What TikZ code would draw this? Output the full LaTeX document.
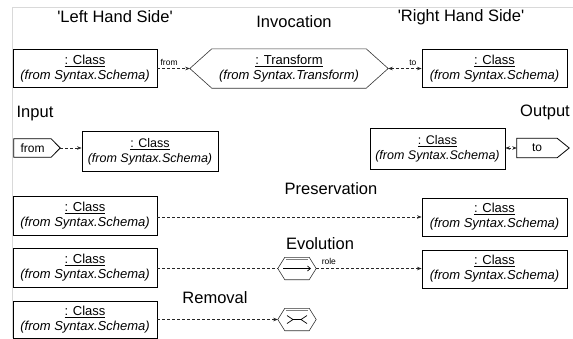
\documentclass[tikz,border=0pt]{standalone}
\usepackage{fontspec}
\setmainfont{Liberation Sans}
\usetikzlibrary{arrows.meta,calc}

% class instance label: underlined name over the italic package path
\newcommand\ClassLabel{\underline{: Class}\\\textit{(from Syntax.Schema)}}

\begin{document}
\begin{tikzpicture}[x=1pt,y=-1pt,
  cls/.style={draw=black, line width=0.9pt, minimum width=144pt, minimum height=38pt,
    inner sep=0pt, align=center, font=\fontsize{13}{15}\selectfont},
  ttl/.style={font=\fontsize{16.5}{18}\selectfont, inner sep=0pt},
  lbl/.style={font=\fontsize{8.5}{10}\selectfont, inner sep=0pt},
  hexbody/.style={inner sep=0pt, align=center},
  hexline/.style={draw=black!80, line width=0.6pt},
  flagline/.style={draw=black, line width=0.8pt},
  dep/.style={draw=black!85, line width=0.7pt, dash pattern=on 3pt off 2pt},
  tipend/.style={-{Stealth[length=4.5pt,width=3.5pt]}},
  tipboth/.style={{Stealth[length=4.5pt,width=3.5pt]}-{Stealth[length=4.5pt,width=3.5pt]}},
]
\useasboundingbox (0,0) rectangle (573,338);

% faint page frame
\draw[gray!30, line width=0.6pt] (12.5,338) -- (12.5,7) -- (573,7);

% section titles
\node[ttl] (tlhs) at (115,17) {\textquotesingle Left Hand Side\textquotesingle};
\node[ttl] (tinv) at (294,22) {Invocation};
\node[ttl] (trhs) at (461,17) {\textquotesingle Right Hand Side\textquotesingle};
\node[ttl] (tin) at (35,114) {Input};
\node[ttl] (tout) at (545,112) {Output};
\node[ttl] (tpres) at (331,189) {Preservation};
\node[ttl] (tevo) at (320,244) {Evolution};
\node[ttl] (trem) at (215,298) {Removal};

% invocation row
\node[cls] (lhs) at (85,68.5) {\ClassLabel};
\node[cls, minimum width=145pt] (rhs) at (494.5,68.5) {\ClassLabel};
\node[hexbody, minimum width=154pt, minimum height=39pt, font=\fontsize{13}{15}\selectfont]
  (trf) at (289,68.5) {\underline{: Transform}\\\textit{(from Syntax.Transform)}};
\draw[hexline] (trf.north west) -- (trf.north east) -- ($(trf.east)+(22,0)$) coordinate (trfR)
  -- (trf.south east) -- (trf.south west) -- ($(trf.west)+(-22,0)$) coordinate (trfL) -- cycle;
\draw[dep, tipend] (lhs.east) -- (trfL) node[lbl, pos=0.36, above=3pt] (lfrom) {from};
\draw[dep, tipboth] (trfR) -- (rhs.west) node[lbl, pos=0.74, above=3pt] (lto) {to};

% input row
\node[inner sep=0pt, minimum width=37pt, minimum height=18pt, font=\fontsize{12}{14}\selectfont]
  (inflag) at (32.5,148) {from};
\draw[flagline] (inflag.north west) -- (inflag.north east) -- ($(inflag.east)+(9,0)$) coordinate (inflagT)
  -- (inflag.south east) -- (inflag.south west) -- cycle;
\node[cls, minimum width=136pt, minimum height=40pt, font=\fontsize{12.5}{15}\selectfont]
  (inbox) at (150,151.5) {\ClassLabel};
\draw[dep, tipend] (inflagT) -- (inflagT -| inbox.west);

% output row
\node[cls, minimum width=135pt, minimum height=41pt, font=\fontsize{12.5}{15}\selectfont]
  (outbox) at (437.5,149) {\ClassLabel};
\node[inner sep=0pt, minimum width=40pt, minimum height=19pt, font=\fontsize{12}{14}\selectfont]
  (outflag) at (537,148) {to};
\draw[flagline] (outflag.north west) -- (outflag.north east) -- ($(outflag.east)+(12,0)$)
  -- (outflag.south east) -- (outflag.south west) -- cycle;
\draw[dep, tipboth] (outbox.east |- outflag.west) -- (outflag.west);

% preservation row
\node[cls, minimum height=39pt] (presL) at (85,216) {\ClassLabel};
\node[cls, minimum width=145pt] (presR) at (494.5,217) {\ClassLabel};
\draw[dep, tipend] (presL.east |- presR.west) -- (presR.west);

% evolution row
\node[cls, minimum height=39pt] (evoL) at (85,268) {\ClassLabel};
\node[cls, minimum width=145pt] (evoR) at (494.5,269) {\ClassLabel};
\node[inner sep=0pt, minimum width=24pt, minimum height=22pt] (evo) at (297,268.5) {};
\draw[hexline] (evo.north west) -- (evo.north east) -- ($(evo.east)+(7,0)$) coordinate (evoTR)
  -- (evo.south east) -- (evo.south west) -- ($(evo.west)+(-7,0)$) coordinate (evoTL) -- cycle;
\draw[gray, line width=0.8pt] ($(evo.north west)+(1,2)$) -- ($(evo.north east)+(-1,2)$);
\draw[black, line width=0.7pt, -{Straight Barb[length=3pt,width=5pt]}]
  ($(evo.center)+(-14,0)$) -- ($(evo.center)+(14,0)$);
\draw[dep] (evoL.east |- evoTL) -- (evoTL);
\draw[dep, tipend] (evoTR) -- (evoTR -| evoR.west) node[lbl, pos=0.12, above=4pt] (lrole) {role};

% removal row
\node[cls, minimum height=37pt] (remL) at (85,319.5) {\ClassLabel};
\node[inner sep=0pt, minimum width=24pt, minimum height=22pt] (rem) at (297,319.5) {};
\draw[hexline] (rem.north west) -- (rem.north east) -- ($(rem.east)+(7,0)$)
  -- (rem.south east) -- (rem.south west) -- ($(rem.west)+(-7,0)$) coordinate (remTL) -- cycle;
\draw[gray, line width=0.8pt] ($(rem.north west)+(1,2)$) -- ($(rem.north east)+(-1,2)$);
\draw[black, line width=0.7pt]
  ($(rem.center)+(-10,-4)$) -- ($(rem.center)+(-4,0)$) -- ($(rem.center)+(-10,4)$)
  ($(rem.center)+(10,-4)$) -- ($(rem.center)+(4,0)$) -- ($(rem.center)+(10,4)$)
  ($(rem.center)+(-4,0)$) -- ($(rem.center)+(4,0)$);
\draw[dep, tipend] (remL.east) -- (remTL);
\end{tikzpicture}
\end{document}
